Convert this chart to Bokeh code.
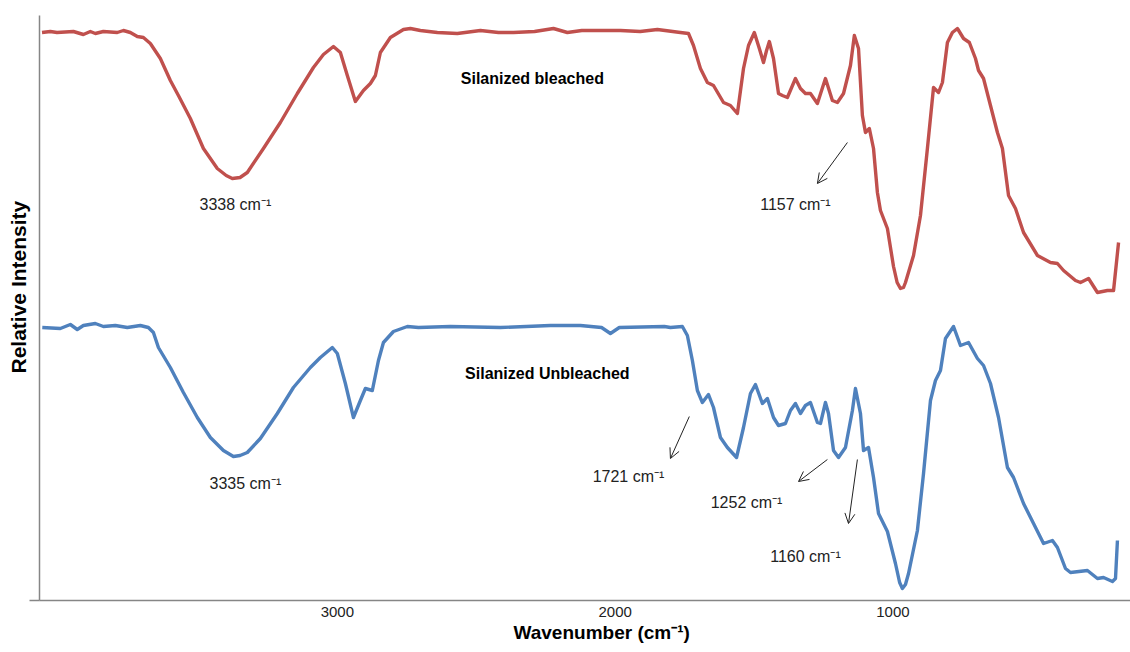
from bokeh.plotting import figure
from bokeh.models import Range1d, FixedTicker, Arrow, OpenHead, Title
from bokeh.core.properties import value
from bokeh.embed import file_html
from bokeh.resources import INLINE

# ---- data (wavenumber cm-1, relative intensity a.u.) ----
bleached_wn = [4063, 4033, 4009, 3950, 3914, 3889, 3871, 3842, 3792, 3770, 3745, 3720, 3698, 3673,
               3637, 3601, 3572, 3529, 3482, 3432, 3400, 3378, 3350, 3324, 3266, 3205, 3144, 3086, 3050, 3014,
               2989, 2964, 2935, 2906, 2881, 2863, 2845, 2809, 2762, 2737, 2701, 2640, 2568, 2485,
               2420, 2366, 2290, 2222, 2172, 2120, 2053, 1981, 1910, 1848, 1765, 1736, 1718, 1693,
               1668, 1646, 1610, 1585, 1560, 1538, 1520, 1499, 1481, 1466, 1455, 1445, 1430, 1412,
               1398, 1380, 1351, 1333, 1315, 1297, 1272, 1243, 1218, 1200, 1178, 1153, 1139, 1124,
               1110, 1099, 1085, 1070, 1056, 1045, 1020, 998, 985, 973, 962, 955, 926, 901, 876, 854, 836, 822,
               804, 786, 768, 746, 725, 703, 692, 674, 649, 624, 606, 584, 559, 530, 480, 433, 408,
               386, 343, 325, 296, 264, 228, 206, 188]
bleached_int = [568, 569, 568, 569, 566, 569, 567, 569, 568, 570, 568, 564, 563, 557,
                542, 520, 505, 482, 452, 432, 425, 422, 423, 428, 452, 478, 507, 533, 546, 554,
                548, 525, 499, 510, 517, 525, 548, 563, 571, 572, 570, 568, 567, 570,
                568, 568, 569, 572, 568, 570, 570, 570, 569, 571, 568, 567, 555, 532,
                518, 515, 498, 495, 487, 532, 555, 568, 552, 538, 550, 559, 542, 507,
                505, 503, 522, 512, 507, 507, 497, 522, 500, 498, 507, 535, 565, 552,
                485, 468, 472, 452, 408, 390, 372, 334, 318, 312, 313, 318, 345, 385, 452, 513, 508, 518,
                558, 568, 572, 562, 558, 542, 530, 522, 495, 468, 452, 405, 392, 368, 345, 338, 337,
                330, 320, 318, 322, 308, 310, 310, 358]

unbleached_wn = [4062, 3997, 3961, 3936, 3914, 3871, 3842, 3799, 3756, 3709, 3680, 3662, 3644, 3601,
                 3554, 3504, 3457, 3410, 3374, 3350, 3324, 3277, 3216, 3158, 3097, 3061, 3018, 3000, 2971,
                 2942, 2917, 2899, 2874, 2852, 2834, 2798, 2748, 2708, 2593, 2413, 2233, 2125, 2049,
                 2017, 1985, 1823, 1801, 1758, 1740, 1722, 1704, 1686, 1664, 1646, 1621, 1596, 1563,
                 1538, 1513, 1495, 1470, 1452, 1430, 1412, 1387, 1369, 1351, 1333, 1315, 1297, 1272,
                 1261, 1243, 1232, 1214, 1196, 1171, 1146, 1135, 1117, 1106, 1088, 1070, 1052, 1020,
                 991, 976, 966, 955, 944, 912, 890, 865, 847, 829, 811, 782, 757, 728, 696, 674, 649, 620, 588,
                 566, 530, 494, 458, 426, 408, 379, 361, 300, 264, 242, 210, 199, 192]
unbleached_int = [273, 272, 276, 271, 275, 277, 274, 275, 273, 275, 273, 268, 253, 233,
                  208, 183, 163, 150, 144, 145, 148, 162, 187, 213, 233, 243, 253, 247, 217,
                  183, 200, 212, 210, 240, 258, 269, 274, 273, 274, 273, 275, 275, 273,
                  267, 273, 274, 273, 274, 265, 240, 210, 198, 206, 193, 163, 153, 143,
                  173, 207, 216, 197, 202, 183, 175, 177, 190, 197, 187, 195, 198, 178,
                  177, 198, 187, 150, 143, 153, 190, 212, 187, 150, 153, 123, 87, 69,
                  37, 18, 12, 16, 27, 70, 127, 200, 220, 230, 262, 274, 255, 258, 242, 235, 217, 183, 133,
                  123, 97, 77, 57, 60, 53, 32, 28, 30, 22, 23, 19, 22, 60]

x_ticks = [3000, 2000, 1000]
x_tick_labels = ["3000", "2000", "1000"]

# series labels
series_names = ["Silanized bleached", "Silanized Unbleached"]
series_label_x = [2298, 2244]
series_label_y = [522, 227]

# peak annotations
peak_texts = ["3338 cm\u207b\u00b9", "3335 cm\u207b\u00b9", "1157 cm\u207b\u00b9",
              "1721 cm\u207b\u00b9", "1252 cm\u207b\u00b9", "1160 cm\u207b\u00b9"]
peak_x = [3367, 3331, 1351, 1952, 1527, 1315]
peak_y = [396, 117, 396, 124, 98, 44]

# arrows (start -> end)
arrow_x0 = [1164, 1733, 1236, 1128]
arrow_y0 = [458, 184, 141, 141]
arrow_x1 = [1272, 1801, 1340, 1160]
arrow_y1 = [417, 142, 119, 77]

FONT = "Liberation Sans"

p = figure(width=1130, height=652, output_backend="svg", toolbar_location=None,
           x_range=Range1d(4072, 145), y_range=Range1d(0, 585),
           min_border_left=39, min_border_right=0, min_border_top=15, min_border_bottom=52)
p.outline_line_color = None
p.xgrid.visible = False
p.ygrid.visible = False
p.background_fill_color = "white"
p.border_fill_color = "white"

# x axis
xa = p.xaxis[0]
xa.ticker = FixedTicker(ticks=x_ticks)
xa.major_label_overrides = {t: l for t, l in zip(x_ticks, x_tick_labels)}
xa.major_tick_out = 0
xa.major_tick_in = 0
xa.minor_tick_out = 0
xa.minor_tick_in = 0
xa.axis_line_color = "#868686"
xa.axis_line_width = 1.5
xa.major_label_text_font = FONT
xa.major_label_text_font_size = "15px"
xa.major_label_text_color = "#222222"
xa.major_label_standoff = 6

# y axis
ya = p.yaxis[0]
ya.ticker = FixedTicker(ticks=[0])
ya.major_label_overrides = {0: ""}
ya.major_tick_out = 10
ya.major_tick_in = 0
ya.major_tick_line_color = "#868686"
ya.major_tick_line_width = 1.5
ya.minor_tick_out = 0
ya.minor_tick_in = 0
ya.major_label_standoff = 0
ya.axis_line_color = "#868686"
ya.axis_line_width = 1.5

# axis titles as offset titles
p.add_layout(Title(text="Wavenumber (cm\u207b\u00b9)", align="left", offset=474,
                   text_font=FONT, text_font_style="bold", text_font_size="19px",
                   text_color="black", standoff=0), "below")
p.add_layout(Title(text="Relative Intensity", align="left", offset=227,
                   text_font=FONT, text_font_style="bold", text_font_size="21px",
                   text_color="black", standoff=0), "left")

p.line(bleached_wn, bleached_int, line_color="#C0504D", line_width=3.4, line_join="round")
p.line(unbleached_wn, unbleached_int, line_color="#4F81BD", line_width=3.4, line_join="round")

p.text(x=series_label_x, y=series_label_y, text=series_names,
       text_font=value(FONT), text_font_style="bold", text_font_size="16px",
       text_align="center", text_baseline="middle", text_color="black")

p.text(x=peak_x, y=peak_y, text=peak_texts,
       text_font=value(FONT), text_font_size="16px",
       text_align="center", text_baseline="middle", text_color="#222222")

for xs, ys, xe, ye in zip(arrow_x0, arrow_y0, arrow_x1, arrow_y1):
    p.add_layout(Arrow(end=OpenHead(size=10, line_width=1, line_color="#222222"),
                       x_start=xs, y_start=ys, x_end=xe, y_end=ye,
                       line_width=1, line_color="#222222"))

open("out.html", "w").write(file_html(p, INLINE))
